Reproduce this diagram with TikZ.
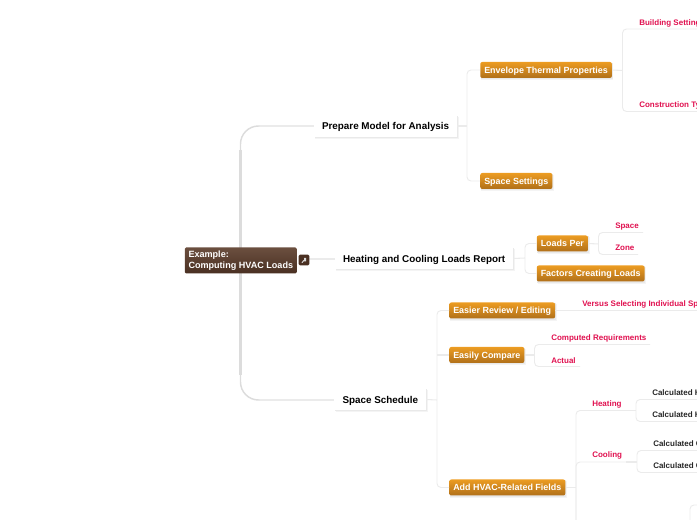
\documentclass[tikz,border=0pt]{standalone}
\usepackage{xcolor}
\usepackage{fontspec}
\setmainfont{Liberation Sans}
\definecolor{linegray}{HTML}{EBEBEB}
\definecolor{trunkgray}{HTML}{DCDCDC}
\definecolor{shadowgray}{HTML}{E9E9E9}
\definecolor{shadowpale}{HTML}{F4F4F4}
\definecolor{rootdark}{HTML}{4A3022}
\definecolor{rootlight}{HTML}{6B4F3F}
\definecolor{orangetop}{HTML}{EC9C22}
\definecolor{orangebot}{HTML}{B0701A}
\definecolor{labelred}{HTML}{E0104F}
\usetikzlibrary{backgrounds}
\tikzset{
  rootbox/.style={rectangle, rounded corners=1pt, top color=rootlight, bottom color=rootdark,
    text=white, font=\bfseries\fontsize{6.8pt}{8.2pt}\selectfont, align=left, anchor=west,
    minimum height=19.5pt, inner xsep=2.8pt, inner ysep=0pt},
  togglebox/.style={rectangle, rounded corners=1pt, fill=rootdark, minimum width=8pt, minimum height=8pt, inner sep=0pt},
  whitebox/.style={rectangle, fill=white, text=black, font=\bfseries\fontsize{7.4pt}{8pt}\selectfont,
    anchor=west, minimum height=16pt, inner xsep=5.8pt, inner ysep=0pt, text height=5.6pt, text depth=0.2pt},
  orangebox/.style={rectangle, rounded corners=1.5pt, top color=orangetop, bottom color=orangebot,
    text=white, font=\bfseries\fontsize{6.7pt}{8pt}\selectfont, anchor=west,
    minimum height=12pt, inner xsep=3pt, inner ysep=0pt, text height=5.4pt, text depth=0.2pt},
  redlabel/.style={text=labelred, font=\bfseries\fontsize{6pt}{6pt}\selectfont, anchor=west, inner sep=0pt, yshift=-0.5pt},
  blacklabel/.style={text=black!85, font=\bfseries\fontsize{6pt}{6pt}\selectfont, anchor=west, inner sep=0pt},
  branch/.style={draw=linegray, line width=0.7pt, rounded corners=3pt},
  trunk/.style={draw=trunkgray, line width=1.6pt},
  trunkcurve/.style={draw=trunkgray, line width=1.1pt, rounded corners=13.5pt},
  thinbranch/.style={draw=linegray, line width=0.8pt}
}
\begin{document}
\begin{tikzpicture}[x=0.75pt, y=-0.75pt]
  \useasboundingbox (0,0) rectangle (697,520);
  \clip (0,0) rectangle (697,520);
  %%% free ends of the connectors %%%
  \coordinate (trunktop) at (240.5,150);
  \coordinate (trunkbot) at (240.5,375);
  \coordinate (env) at (467,126);
  \coordinate (load) at (525,258);
  \coordinate (sched) at (437,400);

  %%% connectors from the root %%%
  \draw[trunk] (trunktop) -- (trunkbot);
  \draw[trunkcurve] (trunktop) |- (260,126);
  \draw[trunkcurve] (trunkbot) |- (260,400);
  \draw[thinbranch] (260,126) -- (314,126);
  \draw[thinbranch] (260,400) -- (334,400);
  \draw[thinbranch] (309,259) -- (336,259);

  %%% first level nodes %%%
  \node[rootbox] (root) at (184.5,260.5) {Example:\\Computing HVAC Loads};
  \node[togglebox] (toggle) at (304,260) {};
  \fill[white!85!black] (301.5,262.5) -- (303.5,260) -- (304.3,260.8) -- (302.3,263) -- cycle
    (304.2,258) rectangle (306,261.5);
  \node[whitebox] (prepare) at (314,126) {Prepare Model for Analysis};
  \node[whitebox] (report) at (335,258.5) {Heating and Cooling Loads Report};
  \node[whitebox] (schedule) at (334.5,399.5) {Space Schedule};

  %%% second level nodes %%%
  % prepare model
  \node[orangebox] (envelope) at (480,70) {Envelope Thermal Properties};
  \node[orangebox] (settings) at (480,181) {Space Settings};
  % loads report
  \node[orangebox] (loadsper) at (536.5,243.5) {Loads Per};
  \node[orangebox] (factors) at (536.5,273.5) {Factors Creating Loads};
  % space schedule
  \node[orangebox] (review) at (449,310.5) {Easier Review / Editing};
  \node[orangebox] (compare) at (449,355) {Easily Compare};
  \node[orangebox] (fields) at (449,487.5) {Add HVAC-Related Fields};

  %%% soft shadows %%%
  \begin{scope}[on background layer]
    \foreach \boxname in {prepare,report,schedule,envelope,settings,loadsper,factors,review,compare,fields} {
      \fill[shadowpale] ([xshift=1pt,yshift=-1.4pt]\boxname.south west) rectangle ([xshift=1pt,yshift=-1.4pt]\boxname.north east);
      \fill[shadowgray] ([xshift=0.5pt,yshift=-0.7pt]\boxname.south west) rectangle ([xshift=0.5pt,yshift=-0.7pt]\boxname.north east);
    }
  \end{scope}

  %%% red labels %%%
  \node[redlabel] (building) at (639,22.7) {Building Setting};
  \node[redlabel] (construction) at (639,104.5) {Construction Ty};
  \node[redlabel] (space) at (615,225.5) {Space};
  \node[redlabel] (zone) at (615,247.5) {Zone};
  \node[redlabel] (versus) at (582,303.5) {Versus Selecting Individual Sp};
  \node[redlabel] (computed) at (551,337.5) {Computed Requirements};
  \node[redlabel] (actual) at (551,359.5) {Actual};
  \node[redlabel] (heating) at (592,403.5) {Heating};
  \node[redlabel] (cooling) at (592,454.5) {Cooling};

  %%% black labels %%%
  \node[blacklabel] (heatone) at (652,392.5) {Calculated H};
  \node[blacklabel] (heattwo) at (652,414.5) {Calculated H};
  \node[blacklabel] (coolone) at (653,443.5) {Calculated C};
  \node[blacklabel] (cooltwo) at (653,465.5) {Calculated C};

  %%% branches %%%
  % prepare model
  \draw[thinbranch] (prepare.east) -- (env);
  \draw[branch] (envelope.west) -| (env) |- (settings.west);
  \draw[thinbranch] (envelope.east) -- (622.5,70.5);
  \draw[branch] (697,29) -| (622.5,111.5) -- (697,111.5);
  % loads report
  \draw[thinbranch] (report.east) -- (load);
  \draw[branch] (loadsper.west) -| (load) |- (factors.west);
  \draw[thinbranch] (loadsper.east) -- (598.5,244);
  \draw[branch] (643,232.5) -| (598.5,254.5) -- (638,254.5);
  % space schedule
  \draw[thinbranch] (schedule.east) -- (sched);
  \draw[branch] (review.west) -| (sched) |- (fields.west);
  \draw[thinbranch] (sched |- compare.west) -- (compare.west);
  \draw[thinbranch] (review.east) -- (697,310.5);
  \draw[thinbranch] (compare.east) -- (534.5,355);
  \draw[branch] (650,344.5) -| (534.5,366.5) -- (580,366.5);
  % hvac fields
  \draw[thinbranch] (fields.east) -- (576,487.5);
  \draw[branch] (626,410.5) -| (576,520);
  \draw[branch] (626,462) -| (576,520);
  \draw[thinbranch] (626,410.5) -- (636,410.5);
  \draw[thinbranch] (626,462) -- (637,462);
  \draw[branch] (697,399.5) -| (636,421.5) -- (697,421.5);
  \draw[branch] (697,450.5) -| (637,472.5) -- (697,472.5);
  \draw[branch] (697,505) -| (690,520);
\end{tikzpicture}
\end{document}
